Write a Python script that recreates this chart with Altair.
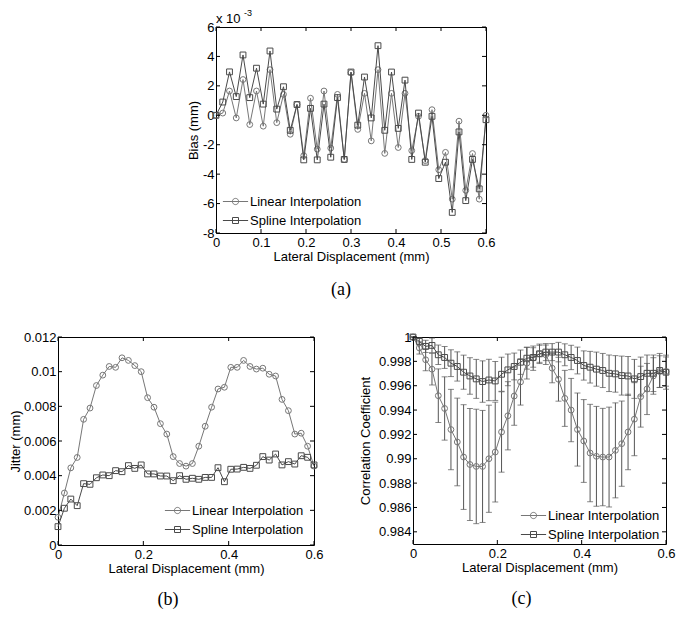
import altair as alt
import pandas as pd

SERIES = ["Linear Interpolation", "Spline Interpolation"]

X = [0.0, 0.015, 0.03, 0.045, 0.06, 0.075, 0.09, 0.105, 0.12, 0.135,
     0.15, 0.165, 0.18, 0.195, 0.21, 0.225, 0.24, 0.255, 0.27, 0.285,
     0.3, 0.315, 0.33, 0.345, 0.36, 0.375, 0.39, 0.405, 0.42, 0.435,
     0.45, 0.465, 0.48, 0.495, 0.51, 0.525, 0.54, 0.555, 0.57, 0.585, 0.6]

# (a) Bias, in units of 1e-3 mm
A_LIN = [0.0, 0.15, 1.65, -0.18, 2.43, -0.63, 1.65, -0.74, 3.1, -0.5,
         1.42, -1.29, 0.73, -2.74, 1.16, -2.3, 1.65, -2.23, 1.42, -3.0,
         2.9, -0.96, 1.49, -1.74, 3.1, -2.59, 1.49, -2.19, 1.49, -2.4,
         -0.07, -3.08, 0.38, -3.7, -2.52, -5.7, -0.4, -5.1, -2.6, -5.7, 0.0]
A_SPL = [0.0, 0.9, 2.95, 1.27, 4.1, 1.2, 3.2, 0.76, 4.37, 0.42,
         1.94, -1.02, 0.73, -3.03, 0.47, -3.03, 0.76, -2.85, 1.2, -3.0,
         2.94, -0.67, 2.6, -0.18, 4.73, -1.02, 2.94, -0.89, 2.39, -3.0,
         0.15, -3.19, -0.07, -4.3, -3.19, -6.6, -1.13, -5.8, -3.0, -5.0, -0.3]

# (b) Jitter (mm)
B_LIN = [0.0016, 0.0030, 0.00445, 0.00505, 0.00725, 0.0079, 0.0092, 0.0098, 0.0103, 0.01025,
         0.0108, 0.01065, 0.01035, 0.0100, 0.0085, 0.00795, 0.0070, 0.0064, 0.0051, 0.0047,
         0.00455, 0.0047, 0.0057, 0.00685, 0.00795, 0.0090, 0.0091, 0.01025, 0.01025, 0.01065,
         0.0103, 0.01015, 0.0102, 0.00985, 0.00975, 0.0084, 0.00775, 0.0064, 0.00645, 0.0057, 0.00455]
B_SPL = [0.00106, 0.00212, 0.00265, 0.00227, 0.00354, 0.0035, 0.00388, 0.00404, 0.0040, 0.00429,
         0.00423, 0.00458, 0.00442, 0.00462, 0.0041, 0.0041, 0.00398, 0.00398, 0.00371, 0.0040,
         0.00379, 0.00385, 0.00379, 0.0039, 0.0039, 0.00446, 0.00365, 0.00437, 0.00438, 0.00448,
         0.00442, 0.0046, 0.0051, 0.0049, 0.00525, 0.00462, 0.00481, 0.00467, 0.00515, 0.00506, 0.00462]

# (c) Correlation coefficient with error half-widths
C_LIN = [1.0, 0.9991, 0.99813, 0.99736, 0.99518, 0.99413, 0.9924, 0.99138, 0.99014, 0.98953,
         0.98937, 0.98937, 0.9900, 0.99055, 0.9922, 0.99353, 0.99515, 0.99631, 0.99785, 0.99826,
         0.99862, 0.99854, 0.99744, 0.99653, 0.99496, 0.9940, 0.9924, 0.99146, 0.99047, 0.9902,
         0.99014, 0.99014, 0.99069, 0.99124, 0.9922, 0.99325, 0.9951, 0.99573, 0.9968, 0.99716, 0.99716]
C_SPL = [1.0, 0.99964, 0.99923, 0.99931, 0.99854, 0.99832, 0.99785, 0.99758, 0.99711, 0.9968,
         0.99656, 0.99634, 0.99647, 0.99639, 0.99694, 0.9973, 0.99758, 0.99793, 0.99826, 0.99832,
         0.99862, 0.99876, 0.99876, 0.99876, 0.99854, 0.99832, 0.99807, 0.99766, 0.99752, 0.99736,
         0.99725, 0.99702, 0.99697, 0.99683, 0.9968, 0.99656, 0.99675, 0.99702, 0.99702, 0.99725, 0.99711]
C_LIN_ERR = [0.0, 0.0005, 0.0009, 0.0013, 0.0022, 0.0026, 0.0033, 0.0036, 0.0043, 0.0046,
             0.0047, 0.0046, 0.0044, 0.0041, 0.0033, 0.0028, 0.0024, 0.0019, 0.0013, 0.0010,
             0.0008, 0.0008, 0.0012, 0.0018, 0.0023, 0.0026, 0.0030, 0.0034, 0.0040, 0.0041,
             0.0040, 0.0041, 0.0039, 0.0035, 0.0031, 0.0030, 0.0025, 0.0021, 0.0015, 0.0013, 0.0012]
C_SPL_ERR = [0.0, 0.0003, 0.0005, 0.0006, 0.0008, 0.0009, 0.0011, 0.0012, 0.0014, 0.0015,
             0.0016, 0.0017, 0.0017, 0.0016, 0.0014, 0.0013, 0.0011, 0.0010, 0.0009, 0.0008,
             0.0007, 0.0007, 0.0007, 0.0008, 0.0009, 0.0010, 0.0011, 0.0012, 0.0013, 0.0014,
             0.0014, 0.0015, 0.0015, 0.0016, 0.0016, 0.0016, 0.0016, 0.0015, 0.0015, 0.0014, 0.0014]

XT_A = [0, 0.1, 0.2, 0.3, 0.4, 0.5, 0.6]
YT_A = [-8, -6, -4, -2, 0, 2, 4, 6]
XT_BC = [0, 0.2, 0.4, 0.6]
YT_B = [0, 0.002, 0.004, 0.006, 0.008, 0.01, 0.012]
YT_C = [0.984, 0.986, 0.988, 0.99, 0.992, 0.994, 0.996, 0.998, 1]

FONT = "Liberation Sans"
SERIF = "Liberation Serif"
LIN_C = "#777777"
SPL_C = "#4a4a4a"
ERR_C = "#555555"

PATH_C = "M-2.1,0L2.1,0M-0.52,0A0.52,0.52,0,1,0,0.52,0A0.52,0.52,0,1,0,-0.52,0Z"
PATH_S = "M-2.1,0L2.1,0M-0.5,-0.5L0.5,-0.5L0.5,0.5L-0.5,0.5Z"


def long_df(lin, spl):
    return pd.DataFrame({
        "x": X + X,
        "y": lin + spl,
        "series": [SERIES[0]] * len(X) + [SERIES[1]] * len(X),
    })


def make_panel(df, xdom, ydom, xt, yt, ytitle, W, H, lx, ly, label,
               extra=None, ytp=4, title_offset=12, title_dx=0):
    xs = alt.Scale(domain=xdom, nice=False, zero=False)
    ys = alt.Scale(domain=ydom, nice=False, zero=False)
    xax = alt.Axis(values=xt, labelExpr="toString(datum.value)",
                   title="Lateral Displacement (mm)", labelFlush=False,
                   labelOverlap=False, labelPadding=3, titlePadding=1,
                   grid=False, domain=False, ticks=False)
    yax = alt.Axis(values=yt, labelExpr="toString(datum.value)", title=ytitle,
                   labelOverlap=False, labelPadding=2, titlePadding=ytp,
                   grid=False, domain=False, ticks=False)

    def XF(f="x"):
        return alt.X(f"{f}:Q", scale=xs, axis=xax)

    def YF(f="y"):
        return alt.Y(f"{f}:Q", scale=ys, axis=yax)

    layers = []
    if extra is not None:
        layers += extra(XF, YF)
    for s, c, shp in [(SERIES[0], LIN_C, "circle"), (SERIES[1], SPL_C, "square")]:
        base = alt.Chart(df).transform_filter(alt.datum.series == s)
        layers.append(base.mark_line(color=c, strokeWidth=1).encode(x=XF(), y=YF()))
        layers.append(base.mark_point(shape=shp, filled=False, color=c, size=34,
                                      strokeWidth=1, opacity=1).encode(x=XF(), y=YF()))

    leg = alt.Legend(title=None, orient="none", legendX=lx, legendY=ly,
                     labelFont=FONT, labelFontSize=13, labelColor="black",
                     symbolSize=144, symbolStrokeWidth=1, labelOffset=8,
                     rowPadding=5, padding=0)
    layers.append(
        alt.Chart(df).transform_filter("false")
        .mark_point(filled=False, strokeWidth=1, opacity=1)
        .encode(
            x=XF(), y=YF(),
            shape=alt.Shape("series:N", scale=alt.Scale(domain=SERIES, range=[PATH_C, PATH_S]), legend=leg),
            color=alt.Color("series:N", scale=alt.Scale(domain=SERIES, range=[LIN_C, SPL_C]), legend=leg),
        )
    )

    # inner ticks on all four sides (MATLAB box style)
    L = 4
    dx = pd.DataFrame({"x": xt})
    dy = pd.DataFrame({"y": yt})
    layers.append(alt.Chart(dx).mark_rule(color="black", strokeWidth=1).encode(
        x=XF(), y=alt.value(H), y2=alt.value(H - L)))
    layers.append(alt.Chart(dx).mark_rule(color="black", strokeWidth=1).encode(
        x=XF(), y=alt.value(0), y2=alt.value(L)))
    layers.append(alt.Chart(dy).mark_rule(color="black", strokeWidth=1).encode(
        y=YF(), x=alt.value(0), x2=alt.value(L)))
    layers.append(alt.Chart(dy).mark_rule(color="black", strokeWidth=1).encode(
        y=YF(), x=alt.value(W - L), x2=alt.value(W)))

    return alt.layer(*layers).properties(
        width=W, height=H,
        view=alt.ViewBackground(stroke="black", strokeWidth=1),
        title=alt.TitleParams(label, orient="bottom", font=SERIF, fontSize=18,
                              fontWeight="normal", color="black", dx=title_dx,
                              offset=title_offset, frame="group", anchor="middle"),
    )


def exponent_text(XF, YF):
    t1 = alt.Chart(pd.DataFrame({"t": ["x 10"]})).mark_text(
        font=FONT, fontSize=13, align="left", baseline="alphabetic", color="black"
    ).encode(text="t:N", x=alt.value(0), y=alt.value(-4))
    t2 = alt.Chart(pd.DataFrame({"t": ["-3"]})).mark_text(
        font=FONT, fontSize=9, align="left", baseline="alphabetic", color="black"
    ).encode(text="t:N", x=alt.value(28), y=alt.value(-11))
    return [t1, t2]


def error_layers(XF, YF):
    dfe = pd.DataFrame({
        "x": X + X,
        "lo": [v - e for v, e in zip(C_LIN, C_LIN_ERR)] + [v - e for v, e in zip(C_SPL, C_SPL_ERR)],
        "hi": [v + e for v, e in zip(C_LIN, C_LIN_ERR)] + [v + e for v, e in zip(C_SPL, C_SPL_ERR)],
    })
    bars = alt.Chart(dfe).mark_rule(color=ERR_C, strokeWidth=1).encode(
        x=XF(), y=YF("lo"), y2="hi:Q")
    cap_lo = alt.Chart(dfe).mark_tick(color=ERR_C, orient="horizontal", size=6, thickness=1).encode(
        x=XF(), y=YF("lo"))
    cap_hi = alt.Chart(dfe).mark_tick(color=ERR_C, orient="horizontal", size=6, thickness=1).encode(
        x=XF(), y=YF("hi"))
    return [bars, cap_lo, cap_hi]


panel_a = make_panel(long_df(A_LIN, A_SPL), [0, 0.6], [-8, 6], XT_A, YT_A, "Bias (mm)",
                     270, 206, 13, 168, "(a)", extra=exponent_text, ytp=2,
                     title_offset=18, title_dx=-10)
panel_b = make_panel(long_df(B_LIN, B_SPL), [0, 0.6], [0, 0.012], XT_BC, YT_B, "Jitter (mm)",
                     256, 208, 113, 167, "(b)", ytp=1, title_offset=16, title_dx=-18)
panel_c = make_panel(long_df(C_LIN, C_SPL), [0, 0.6], [0.983, 1.0], XT_BC, YT_C, "Correlation Coefficient",
                     253, 207, 114, 172, "(c)", extra=error_layers, ytp=6, title_offset=16, title_dx=-18)

spacer = alt.Chart(pd.DataFrame({"v": [0]})).mark_rule(strokeOpacity=0).encode(
    x=alt.value(0), x2=alt.value(5), y=alt.value(2)
).properties(width=128, height=4, view=alt.ViewBackground(strokeWidth=0, stroke="white"))

top = alt.hconcat(spacer, panel_a, spacing=0).resolve_scale(color="independent", shape="independent")
bottom = alt.hconcat(panel_b, panel_c, spacing=34).resolve_scale(color="independent", shape="independent")

chart = alt.vconcat(top, bottom, spacing=30).resolve_scale(
    color="independent", shape="independent"
).properties(
    padding={"left": 0, "top": 0, "right": 0, "bottom": 0}
).configure_axis(
    labelFont=FONT, titleFont=FONT, labelFontSize=13, titleFontSize=13,
    labelColor="black", titleColor="black", titleFontWeight="normal",
    grid=False, domain=False, ticks=False
)

chart.save("out.html", embed_options={"renderer": "svg", "actions": False})
